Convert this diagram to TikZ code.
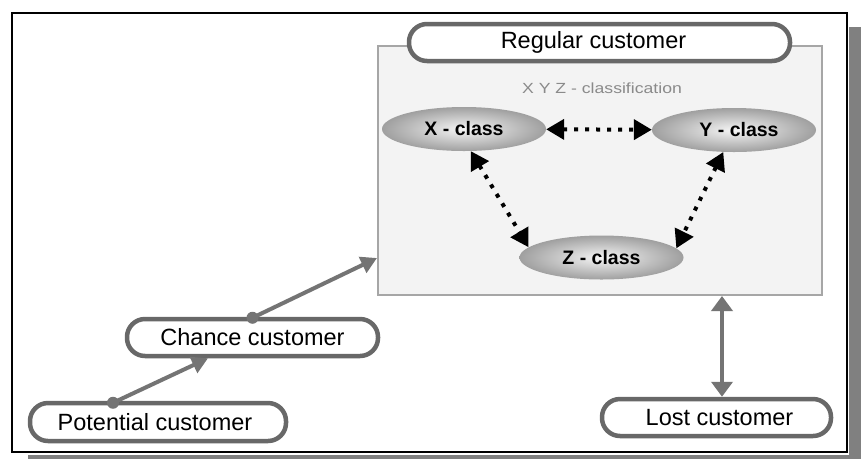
\documentclass[tikz,border=0pt]{standalone}
\usepackage{fontspec}
\usepackage{graphicx}
\setmainfont{Liberation Sans}
\usetikzlibrary{arrows.meta,shapes.geometric,calc}
\definecolor{pillgray}{HTML}{686868}
\definecolor{arrgray}{HTML}{747474}
\definecolor{panelfill}{HTML}{F3F3F3}
\definecolor{panelline}{HTML}{A6A6A6}
\definecolor{shadowgray}{HTML}{808080}
\definecolor{captiongray}{HTML}{8A8A8A}
\begin{document}
\begin{tikzpicture}[x=1pt,y=-1pt,
  pill/.style={draw=pillgray, line width=4.5pt, fill=white, rounded corners=18pt, inner sep=0pt, font=\fontsize{23.5}{26}\selectfont},
  cls/.style={ellipse, shade, inner color=gray!8, outer color=gray!75, minimum width=164pt, minimum height=44pt, inner sep=0pt, font=\bfseries\fontsize{19.5}{22}\selectfont},
  dotarrow/.style={black, line width=4pt, dash pattern=on 4pt off 7pt, {Triangle[length=18pt,width=20pt]}-{Triangle[length=18pt,width=20pt]}},
  grayarrow/.style={arrgray, line width=4pt, -{Triangle[length=16pt,width=17pt]}},
  grayboth/.style={arrgray, line width=4pt, {Triangle[length=15pt,width=21pt]}-{Triangle[length=15pt,width=21pt]}},
  dot/.style={fill=arrgray}
]
% background and frame
\fill[white] (0,0) rectangle (861,459);
\useasboundingbox (0,0) rectangle (861,459);
\fill[shadowgray] (849,27) rectangle (861,459);
\fill[shadowgray] (28,455) rectangle (861,459);
\draw[black, line width=2pt] (12,13) rectangle (847,452);

% panel
\node[draw=panelline, fill=panelfill, line width=2pt, minimum width=444pt, minimum height=249pt, inner sep=0pt] (panel) at (600,170.5) {};
\node[text=captiongray, font=\fontsize{14.7}{17}\selectfont, inner sep=0pt] (cap) at (602,88) {\scalebox{1.2}[1]{X Y Z - classification}};

% classes
\node[cls] (X) at (464,129) {X - class};
\node[cls] (Y) at (734,130) {\hspace*{10pt}Y - class};
\node[cls] (Z) at (601.5,257.5) {Z - class};
\draw[dotarrow] (X) -- (Y);
\draw[dotarrow] (X.-73) -- (Z.172);
\draw[dotarrow] (Y.-116) -- (Z.7);

% pills
\node[pill, minimum width=381pt, minimum height=37pt] (reg) at (599.5,42.5) {Regular customer\hspace*{12pt}};
\node[pill, minimum width=251pt, minimum height=37pt] (chance) at (252.5,337.5) {Chance customer};
\node[pill, minimum width=256pt, minimum height=38pt] (pot) at (158,422) {\hspace*{-6pt}Potential customer};
\node[pill, minimum width=229pt, minimum height=37pt] (lost) at (716.5,417.5) {\hspace*{6pt}Lost customer};

% gray connectors
\draw[grayarrow] ([xshift=-45pt,yshift=-2pt]pot.north) -- ([xshift=-44.5pt]chance.south);
\fill[dot] ([xshift=-45pt,yshift=-2pt]pot.north) circle (6pt);
\draw[grayarrow] ([yshift=-1pt]chance.north) -- (panel.west |- 0,258);
\fill[dot] ([yshift=-1pt]chance.north) circle (6pt);
\draw[grayboth] ([xshift=5.5pt]lost.north) -- ([xshift=5.5pt]lost.north |- panel.south);
\end{tikzpicture}
\end{document}
